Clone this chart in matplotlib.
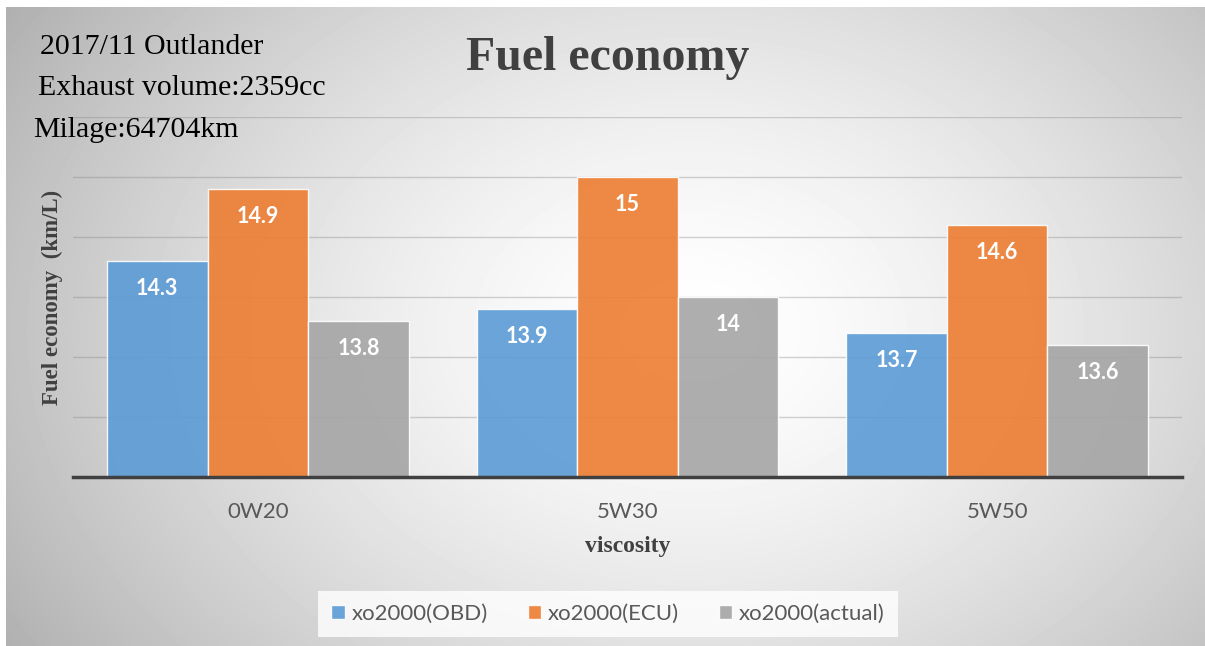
import numpy as np
import matplotlib.pyplot as plt
from matplotlib.patches import Patch

# Fuel economy by oil viscosity
viscosity = ['0W20', '5W30', '5W50']
series = ['xo2000(OBD)', 'xo2000(ECU)', 'xo2000(actual)']
obd = [14.3, 13.9, 13.7]
ecu = [14.9, 15.0, 14.6]
actual = [13.8, 14.0, 13.6]
value_labels = [['14.3', '13.9', '13.7'], ['14.9', '15', '14.6'], ['13.8', '14', '13.6']]
colors = ['#5B9BD5', '#ED7D31', '#A5A5A5']

W, H = 1205, 646
fig = plt.figure(figsize=(W / 100, H / 100), dpi=100)
fig.patch.set_facecolor('white')


def fx(x):
    return x / W


def fy(y):
    return 1 - y / H


# Radial grey background
bg = fig.add_axes([fx(6), 0, 1 - fx(6), fy(7)], zorder=-10)
yy, xx = np.mgrid[7:H, 6:W]
r = np.sqrt(((xx - 690) / 700) ** 2 + ((yy - 330) / 520) ** 2)
shade = 1 - 0.25 * np.clip(r, 0, 1.25) ** 1.5
bg.imshow(shade, cmap='gray', vmin=0, vmax=1, aspect='auto', interpolation='bilinear')
bg.axis('off')

ax = fig.add_axes([fx(73), fy(477), fx(1182) - fx(73), fy(117) - fy(477)])
ax.set_facecolor('none')

x = np.arange(len(viscosity))
width = 0.272
for i, (vals, col) in enumerate(zip([obd, ecu, actual], colors)):
    bars = ax.bar(x + (i - 1) * width, vals, width, color=col, alpha=0.9,
                  edgecolor=(1, 1, 1, 0.6), linewidth=1, zorder=3)
    for b, lab in zip(bars, value_labels[i]):
        ax.annotate(lab, (b.get_x() + b.get_width() / 2, b.get_height()),
                    xytext=(0, -20), textcoords='offset points',
                    ha='center', va='center', color='white',
                    fontsize=15.5, fontweight='bold', family='Lato', zorder=4)

ax.set_xlim(-0.5, 2.5)
ax.set_ylim(12.5, 15.5)
ax.set_yticks(np.arange(12.5, 15.51, 0.5))
ax.set_yticklabels([])
ax.yaxis.grid(True, color='#7f7f7f', alpha=0.35, linewidth=1)
ax.set_axisbelow(True)
ax.tick_params(length=0)
for s in ['top', 'right', 'left']:
    ax.spines[s].set_visible(False)
ax.spines['bottom'].set_color('#404040')
ax.spines['bottom'].set_linewidth(2.5)
ax.spines['bottom'].set_zorder(5)

ax.set_xticks(x)
ax.set_xticklabels(viscosity, family='Lato', fontsize=16, color='#595959')
ax.tick_params(axis='x', pad=18)

ax.set_xlabel('viscosity', family='Liberation Serif', fontweight='bold',
              fontsize=17, color='#404040', labelpad=10)
ax.set_ylabel('Fuel economy  (km/L)', family='Liberation Serif', fontweight='bold',
              fontsize=16.5, color='#404040', labelpad=4)

fig.text(fx(608), fy(58), 'Fuel economy', ha='center', va='center',
         family='Liberation Serif', fontweight='bold', fontsize=34.5, color='#404040')

serif = dict(family='Liberation Serif', fontsize=21.5, color='black', va='center', ha='left')
fig.text(fx(40), fy(47), '2017/11 Outlander', **serif)
fig.text(fx(38), fy(88), 'Exhaust volume:2359cc', **serif)
fig.text(fx(33), fy(130), 'Milage:64704km', **serif)

handles = [Patch(facecolor=c, alpha=0.9, edgecolor=(1, 1, 1, 0.6)) for c in colors]
leg = fig.legend(handles, series, loc='center', bbox_to_anchor=(fx(608), fy(614)),
                 ncol=3, frameon=True, fancybox=False, handlelength=0.6,
                 handleheight=0.6, handletextpad=0.3, columnspacing=1.8,
                 borderpad=0.6, prop={'family': 'Lato', 'size': 16})
leg.get_frame().set_facecolor((1, 1, 1, 0.3))
leg.get_frame().set_edgecolor('none')
for t in leg.get_texts():
    t.set_color('#595959')

fig.savefig('out.png', dpi=100)
